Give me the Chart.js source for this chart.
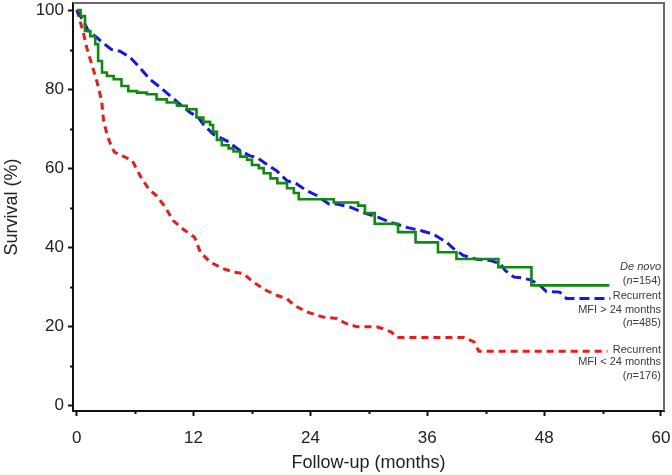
<!DOCTYPE html>
<html>
<head>
<meta charset="utf-8">
<script src="https://cdn.jsdelivr.net/npm/chart.js@4/dist/chart.umd.min.js"></script>
<style>
  html, body { margin: 0; padding: 0; background: #fff; }
  #c { display: block; }
</style>
</head>
<body>
<canvas id="c" width="672" height="475"></canvas>
<script>
// ---------- DATA ----------
const xTicks = [0, 12, 24, 36, 48, 60];
const xMinorTicks = [6, 18, 30, 42, 54];
const yTicks = [0, 20, 40, 60, 80, 100];
const yMinorTicks = [10, 30, 50, 70, 90];

const xTitle = 'Follow-up (months)';
const yTitle = 'Survival (%)';

// De novo (n=154)
const deNovoMonths = [0, 0.4, 0.85, 1.4, 1.9, 2.2, 2.6, 3.1, 3.8, 4.6, 5.3, 6.2, 7.2, 8.2, 9.25, 10.3, 11.3,
  12.3, 13.0, 13.7, 14.0, 14.4, 14.9, 15.6, 16.1, 16.8, 17.5, 18.0, 18.7, 19.2, 19.9, 20.6, 21.6, 22.3, 22.8,
  26.4, 28.9, 29.6, 30.6, 33.0, 34.8, 37.1, 39.0, 43.3, 46.7, 54.7];
const deNovoSurv = [100, 98.5, 94.7, 93.4, 91.4, 87.1, 84.2, 83.3, 82.5, 80.8, 79.5, 79.1, 78.7, 77.4, 76.6, 75.8, 74.9,
  72.8, 71.7, 70.9, 69.2, 67.1, 65.8, 65.0, 64.2, 62.9, 62.1, 60.8, 60.0, 58.7, 57.4, 56.2, 54.9, 53.7, 52.1,
  51.3, 50.5, 48.6, 45.9, 43.8, 41.2, 38.7, 37.0, 34.9, 30.3, 30.3];

// Recurrent MFI > 24 months (n=485)
const mfiHighMonths = [0, 0.7, 1.2, 2.1, 2.7, 3.6, 4.45, 5.5, 6.5, 7.5, 8.6, 9.6, 10.6, 11.65, 12.5, 13.0, 14.0,
  15.4, 16.8, 17.8, 18.5, 19.5, 20.55, 21.6, 22.6, 23.6, 24.7, 25.9, 26.7, 28.1, 29.8, 31.0, 32.2, 33.9, 35.3,
  36.6, 38.0, 38.7, 39.7, 41.1, 42.5, 43.5, 44.0, 44.9, 45.7, 46.6, 47.5, 48.2, 49.6, 50.3, 54.8];
const mfiHighSurv = [100, 97.2, 94.7, 93.0, 91.7, 90.0, 89.6, 88.0, 85.4, 82.5, 80.4, 78.3, 76.2, 74.1, 72.8, 71.1, 68.6,
  66.9, 64.4, 63.1, 62.7, 61.0, 59.3, 56.8, 56.0, 54.3, 53.0, 50.9, 50.9, 50.1, 48.4, 47.5, 46.3, 45.0, 44.2,
  43.3, 41.2, 39.6, 37.9, 36.9, 36.6, 35.8, 34.1, 32.4, 32.2, 31.7, 30.5, 28.8, 28.6, 27.0, 27.0];

// Recurrent MFI < 24 months (n=176)
const mfiLowMonths = [0, 0.16, 0.68, 1.03, 1.54, 2.06, 2.57, 2.75, 3.1, 3.6, 3.9, 4.7, 5.7, 6.6, 7.4, 8.2, 9.1, 9.9,
  11.0, 12.1, 12.7, 13.7, 15.1, 16.1, 17.1, 18.15, 19.5, 20.55, 21.6, 22.3, 23.6, 25.3, 26.7, 27.7, 28.8, 30.8,
  31.5, 32.3, 32.9, 39.8, 40.8, 41.3, 54.5];
const mfiLowSurv = [100, 98.9, 94.3, 90.5, 86.3, 82.1, 77.0, 72.2, 68.6, 65.2, 64.0, 63.1, 61.9, 57.7, 54.7, 53.0, 50.1, 46.7,
  44.4, 42.5, 38.7, 36.2, 34.5, 33.7, 33.3, 31.1, 29.0, 27.8, 26.9, 25.3, 23.6, 22.3, 21.9, 20.6, 19.8, 19.8,
  19.3, 18.5, 17.1, 17.1, 16.0, 13.6, 13.6];

const seriesNames = ['De novo', 'Recurrent MFI > 24 months', 'Recurrent MFI < 24 months'];
const sampleSizes = [154, 485, 176];
// label lines per series (segments: [text, italic])
const labelLines = [
  [[['De novo', true]], [['(', false], ['n', true], ['=' + sampleSizes[0] + ')', false]]],
  [[['Recurrent', false]], [['MFI > 24 months', false]], [['(', false], ['n', true], ['=' + sampleSizes[1] + ')', false]]],
  [[['Recurrent', false]], [['MFI < 24 months', false]], [['(', false], ['n', true], ['=' + sampleSizes[2] + ')', false]]]
];

// ---------- STYLE / LAYOUT ----------
const labelOffsets = [[-18, -4], [-2, 12, 25], [-1, 11, 25]];
const FONT = "'Liberation Sans', Arial, Helvetica, sans-serif";

function pts(xs, ys) { return xs.map((x, i) => ({ x: x, y: ys[i] })); }
function noPad(s) { s.paddingTop = 0; s.paddingBottom = 0; s.paddingLeft = 0; s.paddingRight = 0; }

const annotate = {
  id: 'annotate',
  afterDraw(chart) {
    const ctx = chart.ctx;
    const xs = chart.scales.x, ys = chart.scales.y;
    const area = chart.chartArea;
    ctx.save();
    // frame (top/right)
    ctx.strokeStyle = '#6a6a6a';
    ctx.lineWidth = 2;
    ctx.beginPath();
    ctx.moveTo(area.left, area.top);
    ctx.lineTo(area.right, area.top);
    ctx.lineTo(area.right, area.bottom);
    ctx.stroke();
    // minor ticks
    ctx.strokeStyle = '#111';
    ctx.lineWidth = 2;
    ctx.beginPath();
    yMinorTicks.forEach(v => {
      const py = Math.round(ys.getPixelForValue(v)) + 0.5;
      ctx.moveTo(area.left - 3, py); ctx.lineTo(area.left, py);
    });
    xMinorTicks.forEach(v => {
      const px = Math.round(xs.getPixelForValue(v)) + 0.5;
      ctx.moveTo(px, area.bottom); ctx.lineTo(px, area.bottom + 3);
    });
    ctx.stroke();
    // series labels
    ctx.fillStyle = '#3a3a3a';
    ctx.textBaseline = 'middle';
    ctx.textAlign = 'left';
    const right = area.right - 3;
    chart.data.datasets.forEach((ds, si) => {
      const last = ds.data[ds.data.length - 1];
      const anchorY = ys.getPixelForValue(last.y);
      labelLines[si].forEach((segs, li) => {
        let total = 0;
        const widths = segs.map(([t, it]) => {
          ctx.font = (it ? 'italic ' : '') + '11px ' + FONT;
          const w = ctx.measureText(t).width; total += w; return w;
        });
        let x = right - total;
        const y = anchorY + labelOffsets[si][li];
        segs.forEach(([t, it], k) => {
          ctx.font = (it ? 'italic ' : '') + '11px ' + FONT;
          ctx.fillText(t, x, y);
          x += widths[k];
        });
      });
    });
    ctx.restore();
  }
};

new Chart(document.getElementById('c'), {
  type: 'line',
  data: {
    datasets: [
      { label: seriesNames[0], data: pts(deNovoMonths, deNovoSurv), borderColor: '#0e8a0e', borderWidth: 2.6,
        stepped: true, pointRadius: 0, fill: false },
      { label: seriesNames[1], data: pts(mfiHighMonths, mfiHighSurv), borderColor: '#1616e8', borderWidth: 3,
        borderDash: [10, 5], tension: 0, pointRadius: 0, fill: false },
      { label: seriesNames[2], data: pts(mfiLowMonths, mfiLowSurv), borderColor: '#ee1a1a', borderWidth: 3,
        borderDash: [7, 5], tension: 0, pointRadius: 0, fill: false }
    ]
  },
  options: {
    responsive: false,
    animation: false,
    devicePixelRatio: 1,
    layout: { padding: { top: 3, right: 8, left: 0, bottom: 0 } },
    plugins: { legend: { display: false }, tooltip: { enabled: false } },
    scales: {
      x: {
        type: 'linear', min: -0.38, max: 60.31,
        afterBuildTicks: s => { s.ticks = xTicks.map(v => ({ value: v })); },
        afterFit: s => { s.height = 64; noPad(s); },
        ticks: { font: { family: FONT, size: 17 }, color: '#222', padding: 12, maxRotation: 0, autoSkip: false },
        grid: { display: true, drawOnChartArea: false, drawTicks: true, tickLength: 5, tickWidth: 2, tickColor: '#111' },
        border: { display: true, color: '#111', width: 2 },
        title: { display: true, text: xTitle, font: { family: FONT, size: 18 }, color: '#222', padding: { top: 0, bottom: 1 } }
      },
      y: {
        type: 'linear', min: -1.5, max: 101.8,
        afterBuildTicks: s => { s.ticks = yTicks.map(v => ({ value: v })); },
        afterFit: s => { s.width = 73; noPad(s); },
        ticks: { font: { family: FONT, size: 17 }, color: '#222', padding: 4, autoSkip: false },
        grid: { display: true, drawOnChartArea: false, drawTicks: true, tickLength: 5, tickWidth: 2, tickColor: '#111' },
        border: { display: true, color: '#111', width: 2 },
        title: { display: true, text: yTitle, font: { family: FONT, size: 18 }, color: '#222', padding: { top: 1, bottom: 0 } }
      }
    }
  },
  plugins: [annotate]
});
</script>
</body>
</html>
